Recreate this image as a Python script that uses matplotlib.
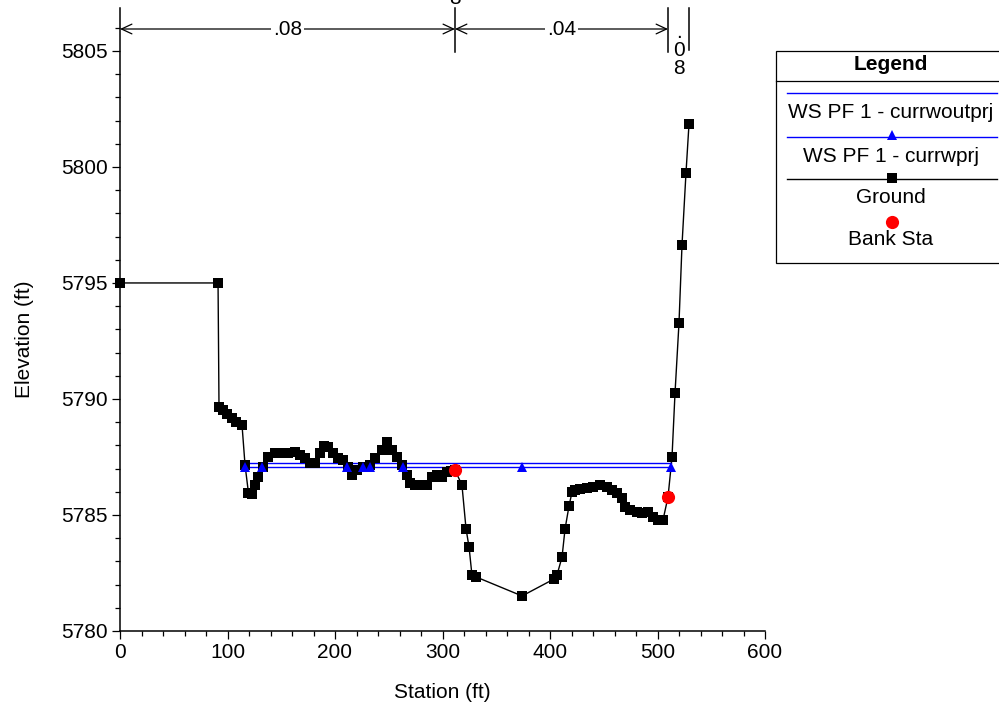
import matplotlib
matplotlib.use("Agg")
import matplotlib.pyplot as plt
from matplotlib.lines import Line2D
from matplotlib.patches import Rectangle
from matplotlib.transforms import blended_transform_factory
from matplotlib.ticker import MultipleLocator

plt.rcParams['font.family'] = ['Liberation Sans', 'DejaVu Sans']

# ---------------- data ----------------
ground_sta = [0, 91.2, 92.1, 95.8, 99.5, 104.2, 107.9, 113.5, 116.3, 119.5, 122.5,
              125.6, 128.4, 133.0, 137.7, 144.2, 150.7, 156.3, 162.8, 167.4, 172.1,
              176.7, 181.4, 186.0, 189.8, 193.5, 198.1, 202.8, 207.4, 212.1, 215.8,
              220.5, 226.0, 232.6, 237.2, 243.7, 248.4, 253.0, 257.7, 262.3, 267.0,
              269.8, 274.4, 280.0, 286.0, 290.2, 294.9, 299.5, 304.2, 308.0, 311.6,
              318.1, 321.9, 324.7, 327.4, 331.2, 374.0, 403.7, 406.5, 411.2, 414.0,
              417.7, 420.5, 423.3, 427.9, 434.4, 440.0, 446.5, 453.0, 457.7, 462.3,
              467.0, 469.8, 474.4, 480.9, 485.6, 491.2, 495.8, 500.5, 505.1, 509.8,
              513.5, 516.3, 520.0, 522.8, 526.5, 529.3]
ground_elev = [5795.0, 5795.0, 5789.66, 5789.53, 5789.35, 5789.18, 5789.01, 5788.88, 5787.16, 5785.95, 5785.90,
               5786.29, 5786.65, 5787.07, 5787.50, 5787.67, 5787.67, 5787.67, 5787.72, 5787.59, 5787.46,
               5787.24, 5787.24, 5787.67, 5787.97, 5787.93, 5787.67, 5787.46, 5787.37, 5787.07, 5786.72,
               5786.94, 5787.07, 5787.16, 5787.46, 5787.80, 5788.15, 5787.80, 5787.50, 5787.16, 5786.72,
               5786.38, 5786.29, 5786.29, 5786.29, 5786.64, 5786.72, 5786.64, 5786.85, 5786.90, 5786.94,
               5786.29, 5784.40, 5783.62, 5782.41, 5782.33, 5781.51, 5782.24, 5782.41, 5783.19, 5784.40,
               5785.39, 5785.99, 5786.08, 5786.12, 5786.16, 5786.21, 5786.29, 5786.21, 5786.08, 5785.95,
               5785.73, 5785.34, 5785.22, 5785.13, 5785.09, 5785.13, 5784.91, 5784.78, 5784.78, 5785.78,
               5787.50, 5790.26, 5793.28, 5796.64, 5799.74, 5801.85]

ws_woutprj_sta = [116.3, 512.8]
ws_woutprj_elev = [5787.25, 5787.25]

ws_wprj_sta = [116.3, 132.0, 211.0, 226.0, 232.6, 263.0, 374.0, 512.6]
ws_wprj_elev = [5787.08] * len(ws_wprj_sta)

bank_sta = [311.6, 509.8]
bank_elev = [5786.94, 5785.78]

n_values = ['.08', '.04', '.08']
n_breaks = [0, 311.6, 509.8, 529.3]

legend_labels = ['WS PF 1 - currwoutprj', 'WS PF 1 - currwprj', 'Ground', 'Bank Sta']

# ---------------- figure ----------------
W, H = 999, 704
fig = plt.figure(figsize=(W / 100, H / 100), dpi=100)
ax = fig.add_axes([120 / W, 1 - 631 / H, 645 / W, 623 / H])

ax.plot(ws_woutprj_sta, ws_woutprj_elev, color='#0000ff', lw=1.0, zorder=2)
ax.plot(ws_wprj_sta, ws_wprj_elev, color='#0000ff', lw=1.0, zorder=2)
ax.plot(ground_sta, ground_elev, color='black', lw=1.0, marker='s', ms=6.5,
        markeredgewidth=0, zorder=3, clip_on=False)
ax.plot(ws_wprj_sta, ws_wprj_elev, ls='none', color='#0000ff', marker='^', ms=7,
        markeredgewidth=0, zorder=4)
ax.plot(bank_sta, bank_elev, ls='none', color='#ff0000', marker='o', ms=9.5,
        markeredgewidth=0, zorder=5)

ax.set_xlim(0, 600)
ax.set_ylim(5780, 5806.85)
ax.xaxis.set_major_locator(MultipleLocator(100))
ax.xaxis.set_minor_locator(MultipleLocator(20))
ax.yaxis.set_major_locator(MultipleLocator(5))
ax.yaxis.set_minor_locator(MultipleLocator(1))
for s in ['top', 'right']:
    ax.spines[s].set_visible(False)
for s in ['left', 'bottom']:
    ax.spines[s].set_linewidth(1.1)
ax.tick_params(which='major', direction='out', length=5.8, width=0.9, labelsize=15, pad=3)
ax.tick_params(which='minor', direction='out', length=3.6, width=0.9)

ax.set_xlabel('Station (ft)', fontsize=15)
ax.set_ylabel('Elevation (ft)', fontsize=15)
ax.xaxis.set_label_coords(0.5, (631 - 692) / 623)
ax.xaxis.label.set_va('center')
ax.yaxis.set_label_coords((24 - 120) / 645, (631 - 339) / 623)
ax.yaxis.label.set_va('center')

# ---------------- n-value annotations ----------------
tr = blended_transform_factory(ax.transData, ax.transAxes)
y_arrow = (631 - 29) / 623
y_vbot = (631 - 52) / 623
for xb in n_breaks[1:]:
    ybot = y_vbot if xb != n_breaks[-1] else (631 - 50) / 623
    ax.plot([xb, xb], [ybot, 1.0], color='black', lw=1.1, transform=tr, clip_on=False, zorder=6)

for i, lab in enumerate(n_values):
    x0, x1 = n_breaks[i], n_breaks[i + 1]
    xm = 0.5 * (x0 + x1)
    if x1 - x0 > 50:
        ax.annotate('', xy=(x1, y_arrow), xytext=(x0, y_arrow), xycoords=tr, textcoords=tr,
                    arrowprops=dict(arrowstyle='<->,head_length=0.75,head_width=0.35',
                                    lw=0.9, color='black', shrinkA=0, shrinkB=0,
                                    mutation_scale=10),
                    annotation_clip=False, zorder=6)
        ax.text(xm, y_arrow, lab, transform=tr, ha='center', va='center', fontsize=15,
                bbox=dict(facecolor='white', edgecolor='none', pad=1.5), zorder=7, clip_on=False)
    else:
        ax.text(xm, (631 - 23) / 623, '\n'.join(lab), transform=tr, ha='center', va='top',
                fontsize=15, linespacing=0.92, zorder=7, clip_on=False)

# clipped label above the middle break (cut off at the top edge, as in the reference)
fig.text(455 / W, 1 - 4 / H, '8', ha='center', va='baseline', fontsize=15)

# ---------------- legend box ----------------
def fx(px):
    return px / W

def fy(py):
    return 1 - py / H

fig.patches.append(Rectangle((fx(776), fy(263)), fx(1010) - fx(776), fy(51) - fy(263),
                             transform=fig.transFigure, facecolor='white',
                             edgecolor='black', lw=0.9, clip_on=False))
fig.lines.append(Line2D([fx(776), fx(1010)], [fy(80.7), fy(80.7)], transform=fig.transFigure,
                        color='black', lw=0.9))
fig.text(fx(891), fy(64), 'Legend', ha='center', va='center', fontsize=15, fontweight='bold')

fig.lines.append(Line2D([fx(787), fx(997)], [fy(93.3), fy(93.3)], transform=fig.transFigure,
                        color='#0000ff', lw=1.0))
fig.text(fx(891), fy(112.7), legend_labels[0], ha='center', va='center', fontsize=15)

fig.lines.append(Line2D([fx(787), fx(997)], [fy(136.5), fy(136.5)], transform=fig.transFigure,
                        color='#0000ff', lw=1.0))
fig.lines.append(Line2D([fx(891.5)], [fy(134.5)], transform=fig.transFigure, ls='none',
                        marker='^', ms=7, color='#0000ff', markeredgewidth=0))
fig.text(fx(891), fy(156), legend_labels[1], ha='center', va='center', fontsize=15)

fig.lines.append(Line2D([fx(787), fx(997)], [fy(179), fy(179)], transform=fig.transFigure,
                        color='black', lw=1.0))
fig.lines.append(Line2D([fx(891.5)], [fy(178)], transform=fig.transFigure, ls='none',
                        marker='s', ms=6.5, color='black', markeredgewidth=0))
fig.text(fx(891), fy(197.5), legend_labels[2], ha='center', va='center', fontsize=15)

fig.lines.append(Line2D([fx(891.5)], [fy(221.5)], transform=fig.transFigure, ls='none',
                        marker='o', ms=9.5, color='#ff0000', markeredgewidth=0))
fig.text(fx(891), fy(239.5), legend_labels[3], ha='center', va='center', fontsize=15)

fig.savefig('out.png', dpi=100)
